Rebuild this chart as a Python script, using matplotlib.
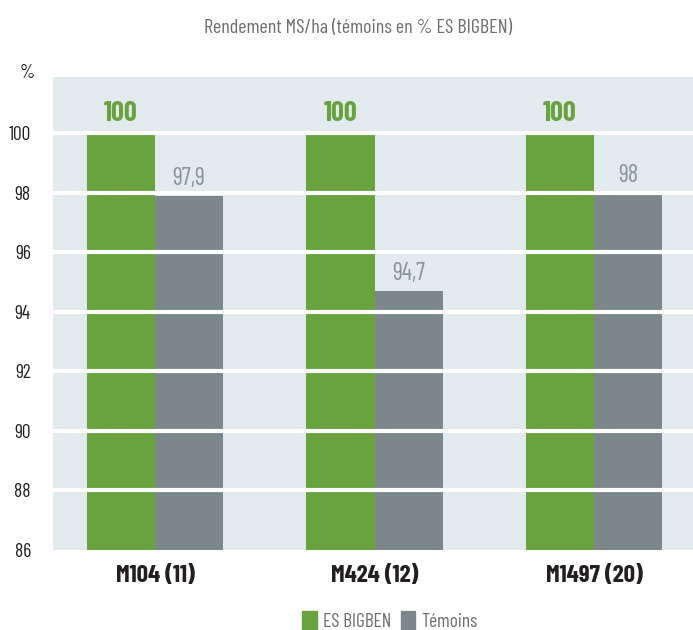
import matplotlib
matplotlib.use("Agg")
import matplotlib.pyplot as plt
import numpy as np
from matplotlib.patches import Patch

categories = ["M104 (11)", "M424 (12)", "M1497 (20)"]
es_bigben = [100, 100, 100]
temoins = [97.9, 94.7, 98]
es_labels = ["100", "100", "100"]
tem_labels = ["97,9", "94,7", "98"]
yticks = [86, 88, 90, 92, 94, 96, 98, 100]

FONT = ["Barlow Condensed", "DejaVu Sans"]
plt.rcParams["font.family"] = FONT

GREEN = "#68a33f"
GRAY = "#7b878a"
BG = "#e2eaed"
DARK = "#231f20"
TXTGRAY = "#6d6e70"

fig = plt.figure(figsize=(6.93, 6.30), dpi=100)
ax = fig.add_axes([53/693, 1-550/630, 640/693, (550-77)/630])
ax.set_facecolor(BG)
x = np.arange(len(categories))
w = 0.31
ax.bar(x - w/2, es_bigben, w, color=GREEN, zorder=2)
ax.bar(x + w/2, temoins, w, color=GRAY, zorder=2)
for t in yticks[1:]:
    ax.axhline(t, color="white", lw=3, zorder=3)
ax.set_xlim(-0.465, 2.451)
ax.set_ylim(86, 101.88)
ax.set_yticks(yticks)
ax.set_yticklabels([str(t) for t in yticks], fontsize=14, color=DARK)
ax.set_xticks(x)
ax.set_xticklabels(categories, fontsize=18, fontweight="bold", color=DARK)
ax.tick_params(length=0)
ax.tick_params(axis="y", pad=16)
ax.tick_params(axis="x", pad=11)
for s in ax.spines.values():
    s.set_visible(False)

for i in range(len(categories)):
    ax.text(x[i] - w/2, es_bigben[i] + 0.25, es_labels[i], ha="center", va="bottom",
            fontsize=20.5, fontweight="bold", color=GREEN, zorder=4)
    ax.text(x[i] + w/2, temoins[i] + 0.2, tem_labels[i], ha="center", va="bottom",
            fontsize=17.5, color="#8a9497", zorder=4)

fig.text(358/693, 1-28/630, "Rendement MS/ha (témoins en % ES BIGBEN)", ha="center", va="center",
         fontsize=14.5, color=TXTGRAY)
fig.text(27/693, 1-73/630, "%", ha="center", va="center", fontsize=14, color=DARK)

handles = [Patch(color=GREEN), Patch(color=GRAY)]
leg = fig.legend(handles, ["ES BIGBEN", "Témoins"], loc="center", bbox_to_anchor=(390/693, 1-621/630),
                 ncol=2, frameon=False, fontsize=14, handlelength=0.75, handleheight=1.1,
                 handletextpad=0.3, columnspacing=0.5)
for t in leg.get_texts():
    t.set_color(TXTGRAY)

fig.savefig("out.png", dpi=100)
